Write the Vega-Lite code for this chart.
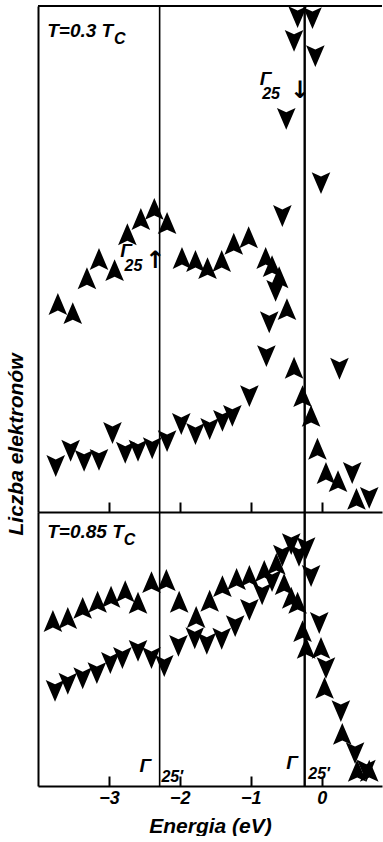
{
  "$schema": "https://vega.github.io/schema/vega-lite/v6.json",
  "padding": {"left": 5, "top": 4, "right": 0, "bottom": 0},
  "spacing": 0,
  "bounds": "flush",
  "background": "white",
  "config": {"view": {"stroke": null}, "font": "Liberation Sans", "axis": {"grid": false}, "concat": {"spacing": 0}},
  "datasets": {
    "lines": [{"E": -2.285}, {"E": -0.24}],
    "pts": [
      {"panel":"top","dir":"up","E":-3.72,"N":41.1},{"panel":"top","dir":"up","E":-3.51,"N":39.3},{"panel":"top","dir":"up","E":-3.31,"N":46.2},{"panel":"top","dir":"up","E":-3.14,"N":50.0},{"panel":"top","dir":"up","E":-2.92,"N":47.8},{"panel":"top","dir":"up","E":-2.74,"N":54.9},{"panel":"top","dir":"up","E":-2.55,"N":57.9},{"panel":"top","dir":"up","E":-2.36,"N":59.9},{"panel":"top","dir":"up","E":-2.18,"N":57.1},{"panel":"top","dir":"up","E":-1.97,"N":50.2},{"panel":"top","dir":"up","E":-1.78,"N":49.6},{"panel":"top","dir":"up","E":-1.61,"N":48.2},{"panel":"top","dir":"up","E":-1.41,"N":49.6},{"panel":"top","dir":"up","E":-1.24,"N":53.0},{"panel":"top","dir":"up","E":-1.03,"N":54.3},{"panel":"top","dir":"up","E":-0.79,"N":50.2},{"panel":"top","dir":"up","E":-0.70,"N":48.6},{"panel":"top","dir":"up","E":-0.60,"N":46.4},{"panel":"top","dir":"up","E":-0.49,"N":40.1},{"panel":"top","dir":"up","E":-0.39,"N":28.5},{"panel":"top","dir":"up","E":-0.27,"N":22.9},{"panel":"top","dir":"up","E":-0.15,"N":19.0},{"panel":"top","dir":"up","E":-0.06,"N":12.5},{"panel":"top","dir":"up","E":0.06,"N":7.7},{"panel":"top","dir":"up","E":0.23,"N":6.1},{"panel":"top","dir":"up","E":0.49,"N":2.6},
      {"panel":"top","dir":"down","E":-3.75,"N":9.1},{"panel":"top","dir":"down","E":-3.54,"N":12.1},{"panel":"top","dir":"down","E":-3.35,"N":10.1},{"panel":"top","dir":"down","E":-3.14,"N":10.3},{"panel":"top","dir":"down","E":-2.95,"N":15.6},{"panel":"top","dir":"down","E":-2.77,"N":11.7},{"panel":"top","dir":"down","E":-2.59,"N":12.1},{"panel":"top","dir":"down","E":-2.39,"N":12.6},{"panel":"top","dir":"down","E":-2.18,"N":14.0},{"panel":"top","dir":"down","E":-1.98,"N":17.4},{"panel":"top","dir":"down","E":-1.78,"N":15.4},{"panel":"top","dir":"down","E":-1.58,"N":16.4},{"panel":"top","dir":"down","E":-1.40,"N":18.0},{"panel":"top","dir":"down","E":-1.26,"N":19.0},{"panel":"top","dir":"down","E":-1.02,"N":22.9},{"panel":"top","dir":"down","E":-0.78,"N":30.8},{"panel":"top","dir":"down","E":-0.74,"N":37.5},{"panel":"top","dir":"down","E":-0.65,"N":43.7},{"panel":"top","dir":"down","E":-0.555,"N":58.5},{"panel":"top","dir":"down","E":-0.50,"N":77.7},{"panel":"top","dir":"down","E":-0.01,"N":65.0},{"panel":"top","dir":"down","E":-0.39,"N":93.1},{"panel":"top","dir":"down","E":-0.09,"N":90.1},{"panel":"top","dir":"down","E":-0.34,"N":97.8},{"panel":"top","dir":"down","E":-0.13,"N":97.6},{"panel":"top","dir":"down","E":0.25,"N":28.3},{"panel":"top","dir":"down","E":0.43,"N":7.7},{"panel":"top","dir":"down","E":0.67,"N":2.8},
      {"panel":"bottom","dir":"up","E":-3.79,"N":32.6},{"panel":"bottom","dir":"up","E":-3.58,"N":33.2},{"panel":"bottom","dir":"up","E":-3.37,"N":35.2},{"panel":"bottom","dir":"up","E":-3.16,"N":36.4},{"panel":"bottom","dir":"up","E":-2.97,"N":37.4},{"panel":"bottom","dir":"up","E":-2.77,"N":38.5},{"panel":"bottom","dir":"up","E":-2.59,"N":36.2},{"panel":"bottom","dir":"up","E":-2.40,"N":40.3},{"panel":"bottom","dir":"up","E":-2.19,"N":40.7},{"panel":"bottom","dir":"up","E":-2.01,"N":36.4},{"panel":"bottom","dir":"up","E":-1.77,"N":33.4},{"panel":"bottom","dir":"up","E":-1.58,"N":36.6},{"panel":"bottom","dir":"up","E":-1.40,"N":39.5},{"panel":"bottom","dir":"up","E":-1.20,"N":40.9},{"panel":"bottom","dir":"up","E":-1.02,"N":41.5},{"panel":"bottom","dir":"up","E":-0.81,"N":42.5},{"panel":"bottom","dir":"up","E":-0.64,"N":43.9},{"panel":"bottom","dir":"up","E":-0.53,"N":39.9},{"panel":"bottom","dir":"up","E":-0.43,"N":37.2},{"panel":"bottom","dir":"up","E":-0.34,"N":36.2},{"panel":"bottom","dir":"up","E":-0.27,"N":30.6},{"panel":"bottom","dir":"up","E":-0.22,"N":27.3},{"panel":"bottom","dir":"up","E":-0.01,"N":27.3},{"panel":"bottom","dir":"up","E":0.04,"N":19.4},{"panel":"bottom","dir":"up","E":0.29,"N":10.3},{"panel":"bottom","dir":"up","E":0.50,"N":3.0},{"panel":"bottom","dir":"up","E":0.67,"N":3.0},
      {"panel":"bottom","dir":"down","E":-3.76,"N":18.8},{"panel":"bottom","dir":"down","E":-3.58,"N":20.2},{"panel":"bottom","dir":"down","E":-3.37,"N":21.3},{"panel":"bottom","dir":"down","E":-3.17,"N":22.3},{"panel":"bottom","dir":"down","E":-2.98,"N":24.3},{"panel":"bottom","dir":"down","E":-2.81,"N":25.3},{"panel":"bottom","dir":"down","E":-2.59,"N":26.7},{"panel":"bottom","dir":"down","E":-2.40,"N":25.3},{"panel":"bottom","dir":"down","E":-2.22,"N":23.7},{"panel":"bottom","dir":"down","E":-2.02,"N":27.7},{"panel":"bottom","dir":"down","E":-1.79,"N":29.2},{"panel":"bottom","dir":"down","E":-1.62,"N":28.1},{"panel":"bottom","dir":"down","E":-1.41,"N":29.1},{"panel":"bottom","dir":"down","E":-1.22,"N":31.6},{"panel":"bottom","dir":"down","E":-1.02,"N":34.8},{"panel":"bottom","dir":"down","E":-0.84,"N":37.9},{"panel":"bottom","dir":"down","E":-0.70,"N":40.5},{"panel":"bottom","dir":"down","E":-0.555,"N":45.5},{"panel":"bottom","dir":"down","E":-0.43,"N":47.8},{"panel":"bottom","dir":"down","E":-0.32,"N":45.5},{"panel":"bottom","dir":"down","E":-0.22,"N":47.0},{"panel":"bottom","dir":"down","E":-0.15,"N":41.5},{"panel":"bottom","dir":"down","E":-0.035,"N":32.2},{"panel":"bottom","dir":"down","E":0.06,"N":23.3},{"panel":"bottom","dir":"down","E":0.27,"N":14.8},{"panel":"bottom","dir":"down","E":0.47,"N":6.5},{"panel":"bottom","dir":"down","E":0.63,"N":3.0}
    ],
    "labels": [
      {"panel":"top","part":"main","E":-3.87,"N":93.9,"text":"T=0.3 T"},
      {"panel":"top","part":"sub","E":-2.93,"N":92.5,"text":"C"},
      {"panel":"top","part":"main","E":-2.84,"N":50.4,"text":"Γ"},
      {"panel":"top","part":"sub","E":-2.78,"N":47.6,"text":"25"},
      {"panel":"top","part":"arrow","E":-2.49,"N":48.2,"text":"↑"},
      {"panel":"top","part":"main","E":-0.875,"N":84.4,"text":"Γ"},
      {"panel":"top","part":"sub","E":-0.84,"N":81.6,"text":"25"},
      {"panel":"top","part":"arrow","E":-0.45,"N":81.8,"text":"↓"},
      {"panel":"bottom","part":"main","E":-3.87,"N":49.0,"text":"T=0.85 T"},
      {"panel":"bottom","part":"sub","E":-2.79,"N":47.6,"text":"C"},
      {"panel":"bottom","part":"main","E":-2.57,"N":2.8,"text":"Γ"},
      {"panel":"bottom","part":"sub","E":-2.26,"N":0.8,"text":"25′"},
      {"panel":"bottom","part":"main","E":-0.50,"N":3.4,"text":"Γ"},
      {"panel":"bottom","part":"sub","E":-0.19,"N":1.4,"text":"25′"}
    ]
  },
  "vconcat": [
    {
      "width": 344,
      "height": 506,
      "layer": [
        {
          "data": {"name": "lines"},
          "transform": [{"filter": "datum.E < -1"}],
          "mark": {"type": "rule", "color": "black", "strokeWidth": 1.6},
          "encoding": {
            "x": {"field": "E", "type": "quantitative", "scale": {"domain": [-4, 0.85], "nice": false, "zero": false},
              "axis": {"orient": "bottom", "values": [-3, -2, -1, 0], "labels": false, "title": null, "tickSize": -10, "tickWidth": 2, "tickColor": "black", "domainWidth": 2, "domainColor": "black", "grid": false}}
          }
        },
        {
          "data": {"name": "lines"},
          "transform": [{"filter": "datum.E > -1"}],
          "mark": {"type": "rule", "color": "black", "strokeWidth": 2.4},
          "encoding": {
            "x": {"field": "E", "type": "quantitative", "scale": {"domain": [-4, 0.85], "nice": false, "zero": false}}
          }
        },
        {
          "data": {"values": [{}]},
          "mark": {"type": "rule", "color": "black", "strokeWidth": 2},
          "encoding": {
            "y": {"datum": 100, "type": "quantitative", "scale": {"domain": [0, 100], "nice": false, "zero": false},
              "axis": {"labels": false, "ticks": false, "grid": false, "domain": true, "domainWidth": 2, "domainColor": "black",
                "title": "Liczba elektronów", "titleFont": "Liberation Sans", "titleFontStyle": "italic", "titleFontWeight": "bold", "titleFontSize": 21, "titleColor": "black",
                "titleAngle": 270, "titleX": -22, "titleY": 438, "titleAlign": "center", "titleBaseline": "middle"}}
          }
        },
        {
          "data": {"name": "pts"},
          "transform": [{"filter": "datum.panel === 'top' && datum.dir === 'up'"}],
          "mark": {"type": "point", "filled": true, "color": "black", "opacity": 1, "strokeWidth": 0, "size": 480, "shape": "M0,-1L0.85,1L0,0.6L-0.85,1Z"},
          "encoding": {
            "x": {"field": "E", "type": "quantitative", "scale": {"domain": [-4, 0.85], "nice": false, "zero": false}},
            "y": {"field": "N", "type": "quantitative", "scale": {"domain": [0, 100], "nice": false, "zero": false}}
          }
        },
        {
          "data": {"name": "pts"},
          "transform": [{"filter": "datum.panel === 'top' && datum.dir === 'down'"}],
          "mark": {"type": "point", "filled": true, "color": "black", "opacity": 1, "strokeWidth": 0, "size": 480, "shape": "M0,1L0.85,-1L0,-0.6L-0.85,-1Z"},
          "encoding": {
            "x": {"field": "E", "type": "quantitative", "scale": {"domain": [-4, 0.85], "nice": false, "zero": false}},
            "y": {"field": "N", "type": "quantitative", "scale": {"domain": [0, 100], "nice": false, "zero": false}}
          }
        },
        {
          "data": {"name": "labels"},
          "transform": [{"filter": "datum.panel === 'top' && datum.part === 'main'"}],
          "mark": {"type": "text", "align": "left", "baseline": "alphabetic", "font": "Liberation Sans", "fontStyle": "italic", "fontWeight": "bold", "fontSize": 19, "color": "black"},
          "encoding": {
            "x": {"field": "E", "type": "quantitative", "scale": {"domain": [-4, 0.85], "nice": false, "zero": false}},
            "y": {"field": "N", "type": "quantitative", "scale": {"domain": [0, 100], "nice": false, "zero": false}},
            "text": {"field": "text"}
          }
        },
        {
          "data": {"name": "labels"},
          "transform": [{"filter": "datum.panel === 'top' && datum.part === 'sub'"}],
          "mark": {"type": "text", "align": "left", "baseline": "alphabetic", "font": "Liberation Sans", "fontStyle": "italic", "fontWeight": "bold", "fontSize": 16, "color": "black"},
          "encoding": {
            "x": {"field": "E", "type": "quantitative", "scale": {"domain": [-4, 0.85], "nice": false, "zero": false}},
            "y": {"field": "N", "type": "quantitative", "scale": {"domain": [0, 100], "nice": false, "zero": false}},
            "text": {"field": "text"}
          }
        },
        {
          "data": {"name": "labels"},
          "transform": [{"filter": "datum.panel === 'top' && datum.part === 'arrow'"}],
          "mark": {"type": "text", "align": "left", "baseline": "alphabetic", "font": "DejaVu Sans", "fontWeight": "bold", "fontSize": 24, "color": "black"},
          "encoding": {
            "x": {"field": "E", "type": "quantitative", "scale": {"domain": [-4, 0.85], "nice": false, "zero": false}},
            "y": {"field": "N", "type": "quantitative", "scale": {"domain": [0, 100], "nice": false, "zero": false}},
            "text": {"field": "text"}
          }
        }
      ]
    },
    {
      "width": 344,
      "height": 274,
      "layer": [
        {
          "data": {"name": "lines"},
          "transform": [{"filter": "datum.E < -1"}],
          "mark": {"type": "rule", "color": "black", "strokeWidth": 1.6},
          "encoding": {
            "x": {"field": "E", "type": "quantitative", "scale": {"domain": [-4, 0.85], "nice": false, "zero": false},
              "axis": {"orient": "bottom", "values": [-3, -2, -1, 0], "format": "~g", "labels": true, "tickSize": -10, "tickWidth": 2, "tickColor": "black", "domainWidth": 2, "domainColor": "black", "grid": false,
                "labelFont": "Liberation Sans", "labelFontStyle": "italic", "labelFontWeight": "bold", "labelFontSize": 18, "labelColor": "black", "labelPadding": 13, "labelFlush": false, "labelOverlap": false,
                "title": "Energia (eV)", "titleFont": "Liberation Sans", "titleFontStyle": "italic", "titleFontWeight": "bold", "titleFontSize": 21, "titleColor": "black", "titlePadding": 8}}
          }
        },
        {
          "data": {"name": "lines"},
          "transform": [{"filter": "datum.E > -1"}],
          "mark": {"type": "rule", "color": "black", "strokeWidth": 2.4},
          "encoding": {
            "x": {"field": "E", "type": "quantitative", "scale": {"domain": [-4, 0.85], "nice": false, "zero": false}}
          }
        },
        {
          "data": {"name": "pts"},
          "transform": [{"filter": "datum.panel === 'bottom' && datum.dir === 'up'"}],
          "mark": {"type": "point", "filled": true, "color": "black", "opacity": 1, "strokeWidth": 0, "size": 480, "shape": "M0,-1L0.85,1L0,0.6L-0.85,1Z"},
          "encoding": {
            "x": {"field": "E", "type": "quantitative", "scale": {"domain": [-4, 0.85], "nice": false, "zero": false}},
            "y": {"field": "N", "type": "quantitative", "scale": {"domain": [0, 54.15], "nice": false, "zero": false},
              "axis": {"labels": false, "ticks": false, "grid": false, "domain": true, "domainWidth": 2, "domainColor": "black", "title": null}}
          }
        },
        {
          "data": {"name": "pts"},
          "transform": [{"filter": "datum.panel === 'bottom' && datum.dir === 'down'"}],
          "mark": {"type": "point", "filled": true, "color": "black", "opacity": 1, "strokeWidth": 0, "size": 480, "shape": "M0,1L0.85,-1L0,-0.6L-0.85,-1Z"},
          "encoding": {
            "x": {"field": "E", "type": "quantitative", "scale": {"domain": [-4, 0.85], "nice": false, "zero": false}},
            "y": {"field": "N", "type": "quantitative", "scale": {"domain": [0, 54.15], "nice": false, "zero": false}}
          }
        },
        {
          "data": {"name": "labels"},
          "transform": [{"filter": "datum.panel === 'bottom' && datum.part === 'main'"}],
          "mark": {"type": "text", "align": "left", "baseline": "alphabetic", "font": "Liberation Sans", "fontStyle": "italic", "fontWeight": "bold", "fontSize": 19, "color": "black"},
          "encoding": {
            "x": {"field": "E", "type": "quantitative", "scale": {"domain": [-4, 0.85], "nice": false, "zero": false}},
            "y": {"field": "N", "type": "quantitative", "scale": {"domain": [0, 54.15], "nice": false, "zero": false}},
            "text": {"field": "text"}
          }
        },
        {
          "data": {"name": "labels"},
          "transform": [{"filter": "datum.panel === 'bottom' && datum.part === 'sub'"}],
          "mark": {"type": "text", "align": "left", "baseline": "alphabetic", "font": "Liberation Sans", "fontStyle": "italic", "fontWeight": "bold", "fontSize": 16, "color": "black"},
          "encoding": {
            "x": {"field": "E", "type": "quantitative", "scale": {"domain": [-4, 0.85], "nice": false, "zero": false}},
            "y": {"field": "N", "type": "quantitative", "scale": {"domain": [0, 54.15], "nice": false, "zero": false}},
            "text": {"field": "text"}
          }
        }
      ]
    }
  ]
}
